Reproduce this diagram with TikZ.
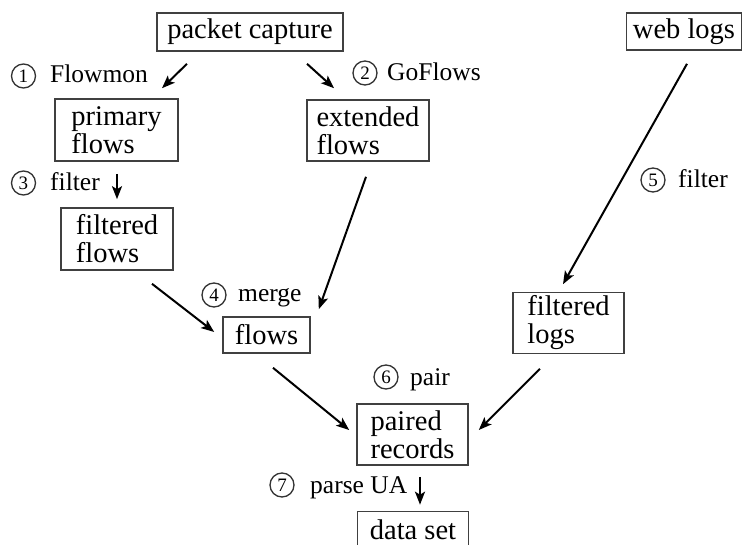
\documentclass[tikz,border=0pt]{standalone}
\usepackage{fontspec}
\setmainfont{Liberation Serif}
\usetikzlibrary{calc,arrows.meta}
\begin{document}
\begin{tikzpicture}[x=1pt,y=-1pt,
  box/.style={draw=black!75, line width=1.6pt, inner sep=0pt, align=left,
    font={\fontsize{28.5}{28}\selectfont}},
  num/.style={draw=black!80, line width=1.3pt, circle, inner sep=0pt, minimum size=24pt,
    font={\fontsize{19}{19}\selectfont}},
  lbl/.style={anchor=base west, inner sep=0pt, font={\fontsize{25.5}{25.5}\selectfont}},
  arr/.style={line width=2pt, -{Stealth[length=13pt,width=10pt,inset=3pt]}}]
\useasboundingbox (0,0) rectangle (742,545);
% boxes
\node[box, minimum width=186pt, minimum height=38pt] (pc) at (250,32) {packet capture};
\node[box, minimum width=115pt, minimum height=37pt] (wl) at (684,31.5) {web logs};
\node[box, minimum width=123pt, minimum height=62pt] (pf) at (116.5,130) {primary\\flows};
\node[box, minimum width=122pt, minimum height=61pt] (ef) at (368,130.5) {extended\\flows};
\node[box, minimum width=112pt, minimum height=62pt] (ff) at (117,239) {filtered\\flows};
\node[box, minimum width=87pt, minimum height=36pt] (fl) at (266.5,335) {flows};
\node[box, minimum width=111pt, minimum height=61pt] (flg) at (568.5,323) {filtered\\logs};
\node[box, minimum width=111pt, minimum height=61pt] (pr) at (412.5,434.5) {paired\\records};
\node[box, minimum width=111pt, minimum height=36pt] (ds) at (413,529.5) {data set};
% step labels
\node[num] (c1) at (23.5,76) {1};
\node[lbl] (l1) at (50,83) {Flowmon};
\node[num] (c2) at (365,73) {2};
\node[lbl] (l2) at (387,81) {GoFlows};
\node[num] (c3) at (23.5,183) {3};
\node[lbl] (l3) at (50,191) {filter};
\node[num] (c4) at (214,295) {4};
\node[lbl] (l4) at (238,302) {merge};
\node[num] (c5) at (653,180) {5};
\node[lbl] (l5) at (678,188) {filter};
\node[num] (c6) at (386,377) {6};
\node[lbl] (l6) at (410,385) {pair};
\node[num] (c7) at (282,485) {7};
\node[lbl] (l7) at (310,493) {parse UA};
% connectors
\draw[arr] ($(pc.south)+(-63,12)$) -- ($(pf.north)+(45.5,-10)$);
\draw[arr] ($(pc.south)+(57,12)$) -- ($(ef.north)+(-34,-11)$);
\draw[arr] ($(pf.south)+(0.5,12)$) -- ($(ff.north)+(0,-8)$);
\draw[arr] ($(ef.south)+(-2,15)$) -- ($(fl.north east)+(8,-7)$);
\draw[arr] ($(ff.south)+(35,13)$) -- ($(fl.west)+(-8,-3)$);
\draw[arr] ($(wl.south)+(3,13)$) -- ($(flg.north)+(-5.5,-7.5)$);
\draw[arr] ($(fl.south)+(6.5,14)$) -- ($(pr.west)+(-7,-4.5)$);
\draw[arr] ($(flg.south)+(-28.5,14.5)$) -- ($(pr.east)+(10,-4.5)$);
\draw[arr] ($(pr.south)+(7.5,11)$) -- ($(ds.north)+(7,-6)$);
\end{tikzpicture}
\end{document}
